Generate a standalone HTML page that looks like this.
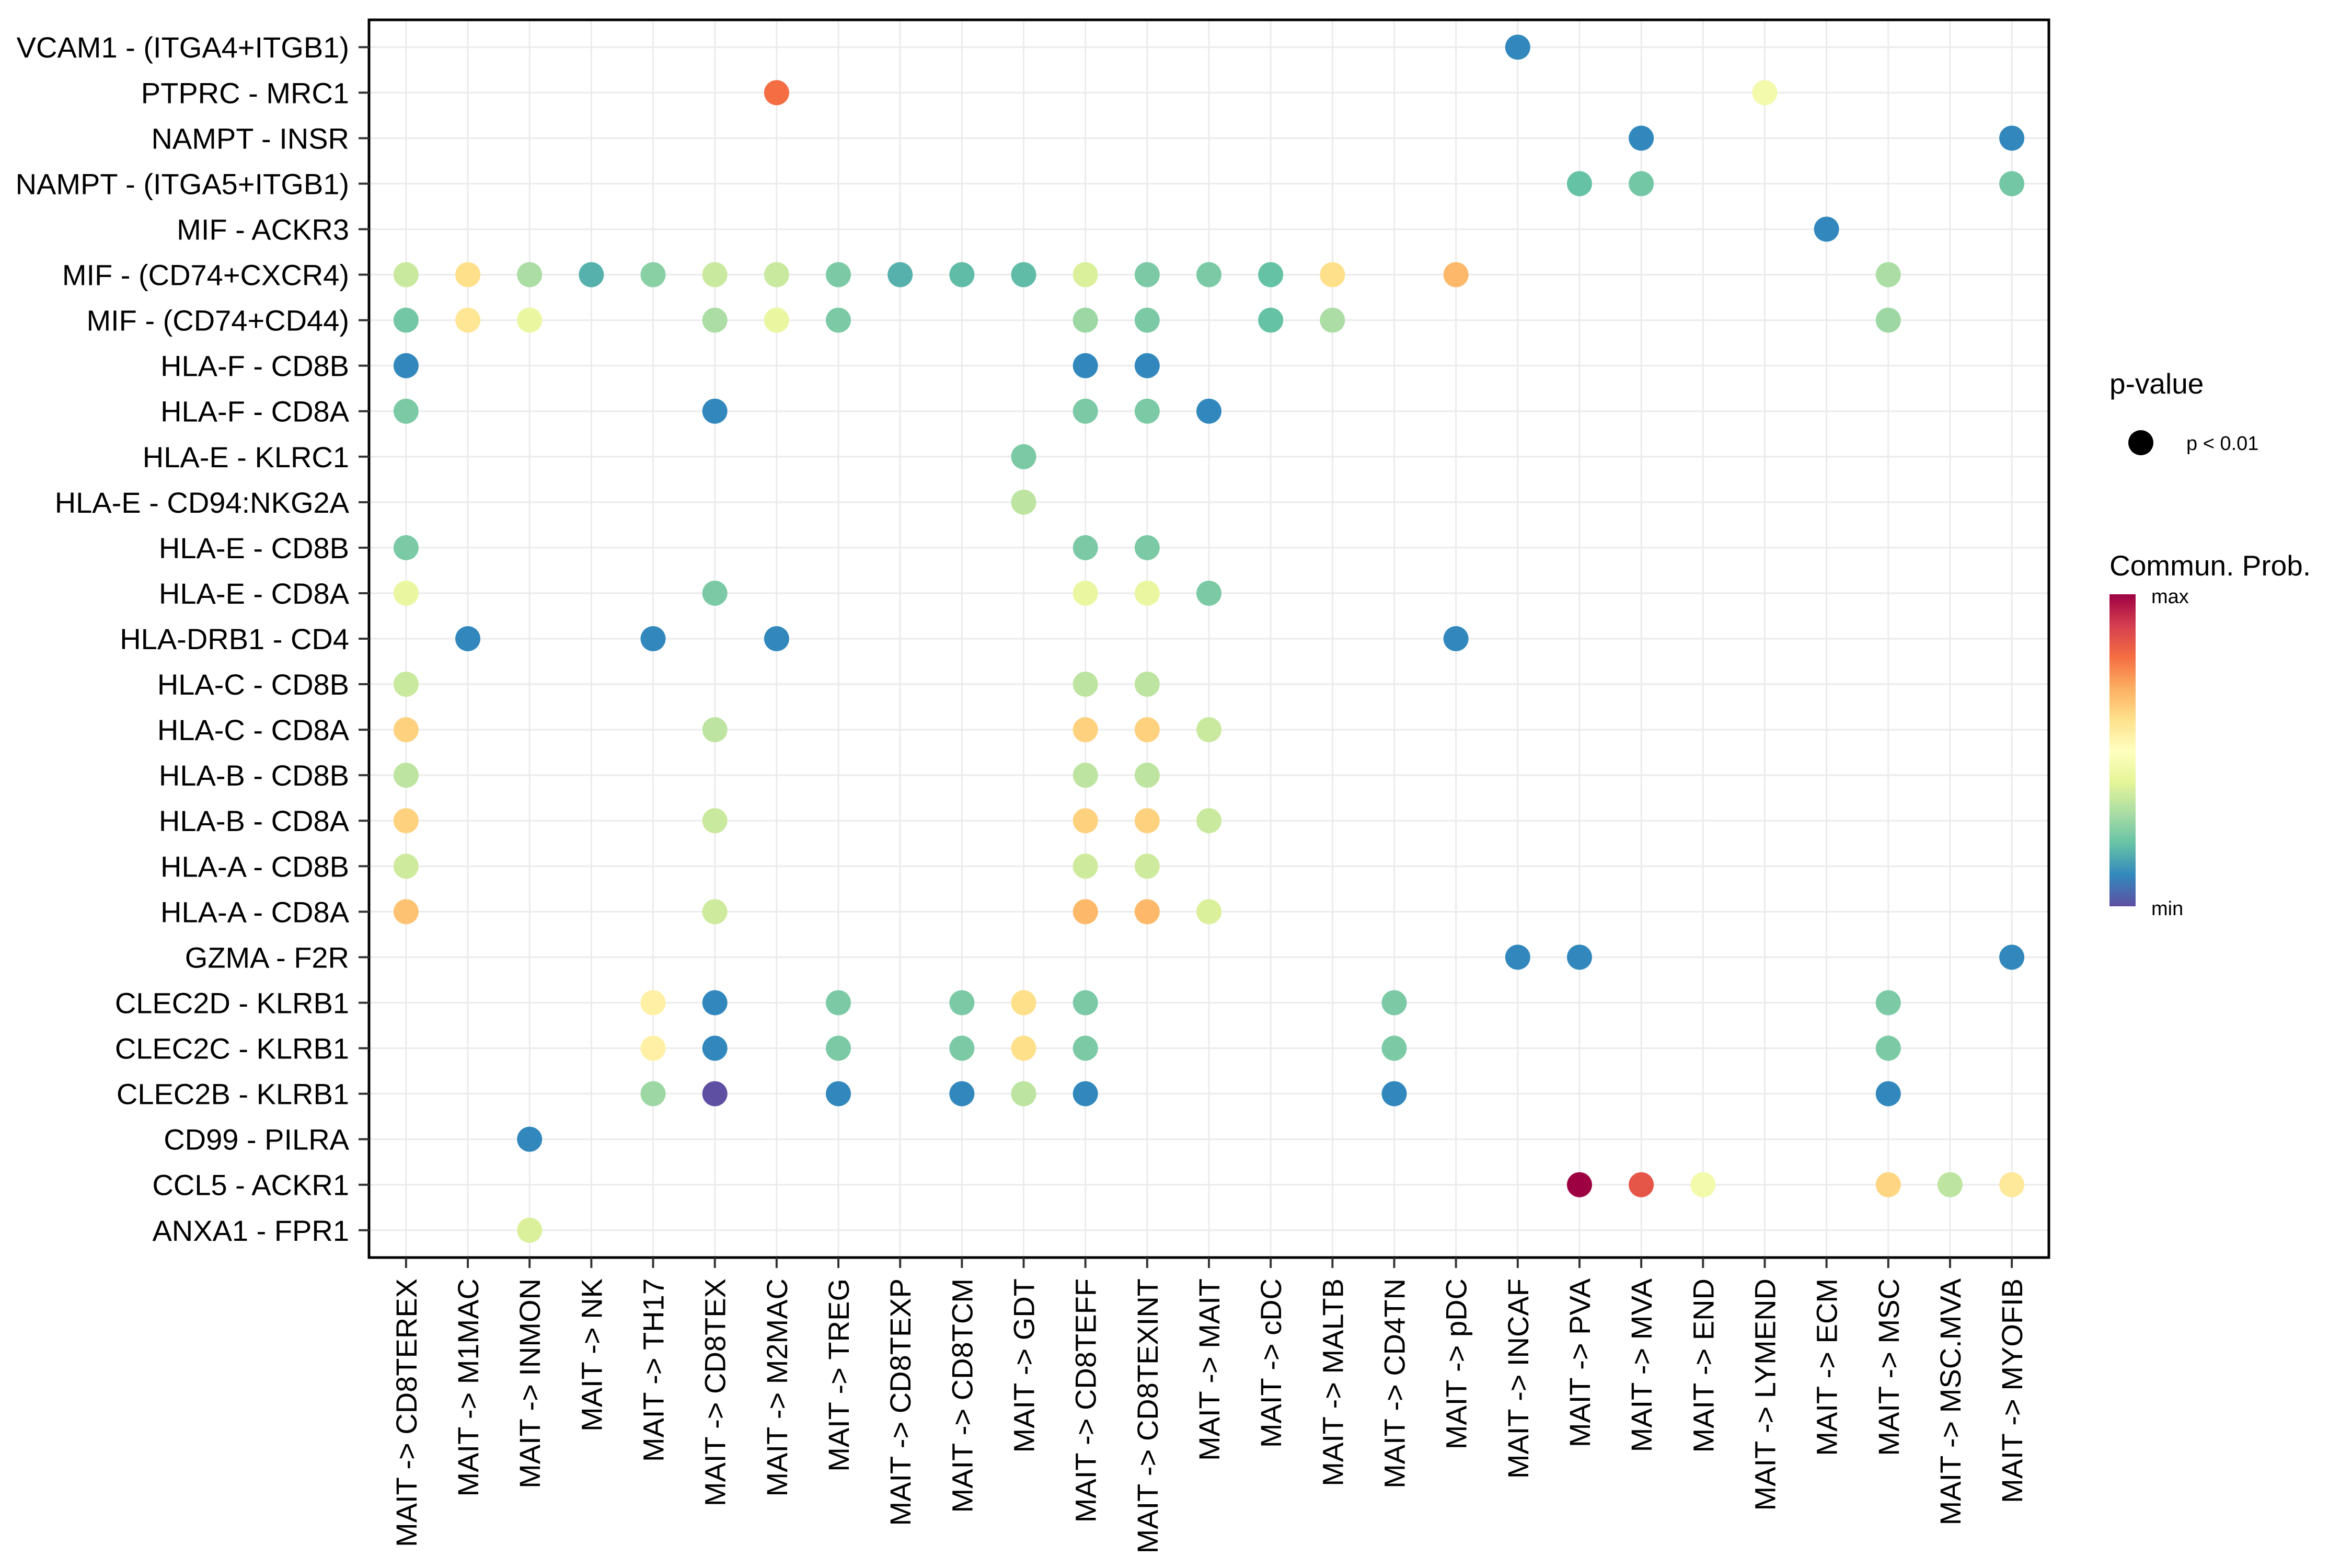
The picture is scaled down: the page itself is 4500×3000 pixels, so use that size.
<!DOCTYPE html>
<html><head><meta charset="utf-8"><style>
html,body{margin:0;padding:0;background:#fff;}
svg{display:block;font-family:"Liberation Sans",sans-serif;}
</style></head><body>
<svg id="chart" width="4500" height="3000" viewBox="0 0 4500 3000" xmlns="http://www.w3.org/2000/svg">
<g id="grid"></g>
<g id="dots"></g>
<rect x="706" y="38" width="3214" height="2368" fill="none" stroke="#000" stroke-width="5"/>
<g id="yaxis"></g>
<g id="xaxis"></g>
<g>
<text x="4036" y="753" font-size="55">p-value</text>
<circle cx="4096" cy="847" r="24" fill="#000"/>
<text x="4183" y="861" font-size="38">p &lt; 0.01</text>
</g>
<g>
<defs><linearGradient id="spec" x1="0" y1="1" x2="0" y2="0">
<stop offset="0" stop-color="#5E4FA2"/><stop offset="0.1" stop-color="#3288BD"/><stop offset="0.2" stop-color="#66C2A5"/><stop offset="0.3" stop-color="#ABDDA4"/><stop offset="0.4" stop-color="#E6F598"/><stop offset="0.5" stop-color="#FFFFBF"/><stop offset="0.6" stop-color="#FEE08B"/><stop offset="0.7" stop-color="#FDAE61"/><stop offset="0.8" stop-color="#F46D43"/><stop offset="0.9" stop-color="#D53E4F"/><stop offset="1" stop-color="#9E0142"/>
</linearGradient></defs>
<text x="4036" y="1101" font-size="55">Commun. Prob.</text>
<rect x="4036" y="1137" width="50" height="597" fill="url(#spec)"/>
<text x="4116" y="1154" font-size="38">max</text>
<text x="4116" y="1751" font-size="38">min</text>
</g>
</svg>
<script>
const rowLabels = ["VCAM1 - (ITGA4+ITGB1)","PTPRC - MRC1","NAMPT - INSR","NAMPT - (ITGA5+ITGB1)","MIF - ACKR3","MIF - (CD74+CXCR4)","MIF - (CD74+CD44)","HLA-F - CD8B","HLA-F - CD8A","HLA-E - KLRC1","HLA-E - CD94:NKG2A","HLA-E - CD8B","HLA-E - CD8A","HLA-DRB1 - CD4","HLA-C - CD8B","HLA-C - CD8A","HLA-B - CD8B","HLA-B - CD8A","HLA-A - CD8B","HLA-A - CD8A","GZMA - F2R","CLEC2D - KLRB1","CLEC2C - KLRB1","CLEC2B - KLRB1","CD99 - PILRA","CCL5 - ACKR1","ANXA1 - FPR1"];
const colLabels = ["CD8TEREX","M1MAC","INMON","NK","TH17","CD8TEX","M2MAC","TREG","CD8TEXP","CD8TCM","GDT","CD8TEFF","CD8TEXINT","MAIT","cDC","MALTB","CD4TN","pDC","INCAF","PVA","MVA","END","LYMEND","ECM","MSC","MSC.MVA","MYOFIB"];
const dotRow = [0,1,1,2,2,3,3,3,4,
5,5,5,5,5,5,5,5,5,5,5,5,5,5,5,5,5,5,
6,6,6,6,6,6,6,6,6,6,6,
7,7,7, 8,8,8,8,8, 9, 10, 11,11,11, 12,12,12,12,12, 13,13,13,13,
14,14,14, 15,15,15,15,15, 16,16,16, 17,17,17,17,17, 18,18,18, 19,19,19,19,19,
20,20,20, 21,21,21,21,21,21,21,21, 22,22,22,22,22,22,22,22, 23,23,23,23,23,23,23,23,
24, 25,25,25,25,25,25, 26];
const dotCol = [18,6,22,20,26,19,20,26,23,
0,1,2,3,4,5,6,7,8,9,10,11,12,13,14,15,17,24,
0,1,2,5,6,7,11,12,14,15,24,
0,11,12, 0,5,11,12,13, 10, 10, 0,11,12, 0,5,11,12,13, 1,4,6,17,
0,11,12, 0,5,11,12,13, 0,11,12, 0,5,11,12,13, 0,11,12, 0,5,11,12,13,
18,19,26, 4,5,7,9,10,11,16,24, 4,5,7,9,10,11,16,24, 4,5,7,9,10,11,16,24,
2, 19,20,21,24,25,26, 2];
const dotProb = [0.1,0.8,0.45,0.1,0.1,0.2,0.22,0.22,0.1,
0.35,0.6,0.3,0.17,0.25,0.35,0.35,0.23,0.17,0.19,0.19,0.38,0.23,0.23,0.2,0.6,0.68,0.3,
0.22,0.58,0.42,0.3,0.42,0.23,0.28,0.23,0.2,0.3,0.28,
0.1,0.1,0.1, 0.23,0.1,0.23,0.23,0.1, 0.23, 0.33, 0.23,0.23,0.23, 0.42,0.23,0.42,0.42,0.23, 0.1,0.1,0.1,0.1,
0.35,0.33,0.33, 0.63,0.33,0.63,0.63,0.35, 0.33,0.33,0.33, 0.63,0.35,0.63,0.63,0.35, 0.36,0.36,0.36, 0.66,0.36,0.68,0.68,0.38,
0.1,0.1,0.1, 0.55,0.1,0.23,0.23,0.6,0.23,0.23,0.23, 0.55,0.1,0.23,0.23,0.6,0.23,0.23,0.23, 0.28,0.0,0.1,0.1,0.33,0.1,0.1,0.1,
0.1, 1.0,0.85,0.45,0.62,0.33,0.57, 0.38];

const NS = "http://www.w3.org/2000/svg";
const PL = 706, PT = 38, PR = 3920, PB = 2406;
const stepX = (PR - PL) / (colLabels.length - 1 + 1.2);
const stepY = (PB - PT) / (rowLabels.length - 1 + 1.2);
function xScale(i){ return PL + (i + 0.6) * stepX; }
function yScale(i){ return PT + (i + 0.6) * stepY; }
const pal = ["#5E4FA2","#3288BD","#66C2A5","#ABDDA4","#E6F598","#FFFFBF","#FEE08B","#FDAE61","#F46D43","#D53E4F","#9E0142"];
function hex(h){ return [1,3,5].map(k=>parseInt(h.substr(k,2),16)); }
function colorOf(v){
  v = Math.max(0, Math.min(1, v)) * 10;
  const i = Math.min(9, Math.floor(v)), t = v - i;
  const a = hex(pal[i]), b = hex(pal[i+1]);
  return "rgb(" + a.map((c,k)=>Math.round(c + (b[k]-c)*t)).join(",") + ")";
}
function mk(tag, attrs, parent){
  const e = document.createElementNS(NS, tag);
  for (const k in attrs) e.setAttribute(k, attrs[k]);
  parent.appendChild(e); return e;
}
const grid = document.getElementById("grid");
const yax = document.getElementById("yaxis");
const xax = document.getElementById("xaxis");
const dots = document.getElementById("dots");

rowLabels.forEach((lab, i) => {
  const y = yScale(i);
  const g = mk("line", {x1: PL, x2: PR, y1: y, y2: y, stroke: "#EBEBEB", "stroke-width": 3}, grid);
  
  
  const t = mk("line", {x1: PL - 20, x2: PL, y1: y, y2: y, stroke: "#333", "stroke-width": 4}, yax);
  
  
  const tx = mk("text", {x: 668, y: y + 20, "text-anchor": "end", "font-size": 56, fill: "#000"}, yax);
  tx.textContent = lab;
  
  
});
colLabels.forEach((lab, i) => {
  const x = xScale(i);
  const g = mk("line", {x1: x, x2: x, y1: PT, y2: PB, stroke: "#EBEBEB", "stroke-width": 3}, grid);
  
  
  const t = mk("line", {x1: x, x2: x, y1: PB, y2: PB + 20, stroke: "#333", "stroke-width": 4}, xax);
  
  
  const tx = mk("text", {x: 0, y: 0, "text-anchor": "end", "font-size": 56, fill: "#000",
    transform: "translate(" + (x + 20) + "," + (PB + 40) + ") rotate(-90)"}, xax);
  tx.textContent = "MAIT -> " + lab;
  
  
});
dotProb.forEach((v, k) => {
  const c = mk("circle", {cx: xScale(dotCol[k]), cy: yScale(dotRow[k]), r: 24, fill: colorOf(v)}, dots);
  
  
});
</script>
</body></html>
